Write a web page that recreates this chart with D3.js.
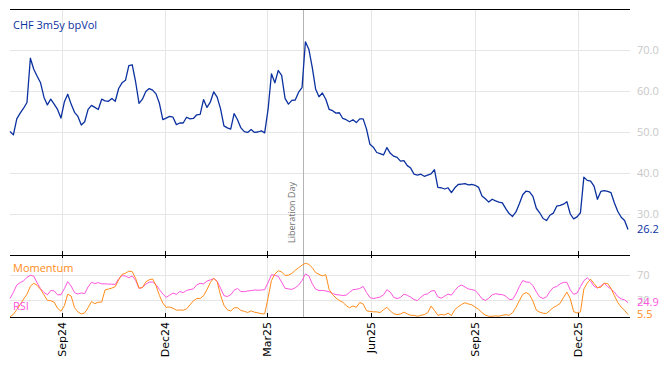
<!DOCTYPE html>
<html>
<head>
<meta charset="utf-8">
<script src="https://cdn.jsdelivr.net/npm/d3@7"></script>
<style>
body { margin: 0; background: #fff; }
svg { display: block; font-family: 'Open Sans', sans-serif; }
.grid { stroke: #e6e6e6; stroke-width: 1; }
.frame { stroke: #000; stroke-width: 1.2; }
.rlabel { fill: #c8c8c8; font-size: 11px; }
.xlabel { fill: #000; font-size: 11px; font-family: 'DejaVu Sans', sans-serif; }
</style>
</head>
<body>
<svg id="chart"></svg>
<script>
// series sampled every 3 calendar days from startDate
var startDate = '2024-07-17';
var stepDays = 3;

var volValues = [
  50.1, 49.3, 53.2, 54.6, 55.8, 57.2, 68.0, 65.3, 63.6, 62.0,
  58.5, 56.6, 58.0, 56.8, 55.5, 53.4, 57.3, 59.2, 56.8, 54.8,
  53.8, 51.7, 52.5, 55.5, 56.5, 56.0, 55.5, 58.0, 57.6, 57.5,
  58.2, 57.5, 60.6, 62.0, 62.6, 66.2, 66.4, 62.2, 57.0, 58.0,
  59.9, 60.6, 60.2, 59.3, 57.0, 53.0, 53.4, 53.8, 53.6, 51.8,
  52.2, 52.2, 53.6, 53.2, 53.3, 54.2, 54.3, 57.9, 56.0, 57.3,
  59.8, 58.5, 55.7, 51.5, 51.0, 50.7, 54.5, 53.0, 51.0, 50.1,
  49.9, 50.6, 49.9, 50.0, 50.3, 49.8, 55.5, 64.2, 62.0, 65.0,
  63.8, 58.2, 56.8, 57.7, 57.8, 59.7, 60.8, 72.0, 70.2, 65.8,
  60.5, 58.6, 59.5, 58.0, 55.5, 55.2, 54.6, 54.7, 53.3, 53.0,
  52.5, 53.0, 52.3, 53.2, 53.2, 50.7, 47.0, 46.3, 45.0, 44.7,
  44.4, 46.2, 44.8, 44.1, 43.8, 42.9, 43.0, 41.8, 41.2, 39.7,
  39.5, 39.7, 39.2, 39.5, 39.8, 40.8, 36.5, 36.4, 36.1, 36.4,
  35.2, 36.4, 37.2, 37.3, 37.4, 37.1, 37.2, 37.0, 36.5, 34.4,
  33.7, 32.9, 33.6, 33.2, 32.9, 32.7, 31.3, 30.1, 29.4, 30.5,
  32.5, 34.7, 35.6, 35.4, 34.3, 31.4, 30.3, 28.9, 28.4, 29.7,
  30.2, 31.9, 32.1, 32.4, 33.0, 30.0, 28.8, 29.3, 30.3, 39.0,
  38.2, 38.0, 36.8, 33.6, 35.5, 35.7, 35.5, 35.2, 32.7, 30.6,
  29.2, 28.4, 26.2
];

var momValues = [
   2.0,  6.0, 14.0, 22.0, 31.0, 39.0, 52.0, 57.0, 53.5, 47.0,
  38.0, 29.0, 28.3, 26.0, 16.0, 11.0, 20.0, 39.0, 36.0, 17.0,
  10.0,  6.6,  8.3, 17.0, 27.0, 23.5, 26.0, 26.0, 46.0, 47.5,
  49.0, 51.5, 62.5, 71.5, 73.4, 76.8, 76.0, 65.0, 49.0, 49.8,
  59.3, 62.7, 64.0, 53.0, 37.0, 24.5, 17.5, 18.0, 16.0, 12.8,
  13.2, 12.7, 15.0, 21.4, 28.0, 32.0, 32.0, 36.5, 46.5, 58.0,
  65.3, 59.5, 37.5, 21.0, 13.5, 11.5, 16.5, 17.0, 12.3, 11.0,
   9.0, 11.8,  9.5,  8.5,  7.0,  6.8, 33.0, 61.5, 72.0, 77.5,
  75.5, 69.7, 70.3, 73.1, 78.2, 82.3, 86.7, 89.8, 87.9, 82.7,
  74.5, 71.5, 69.0, 71.0, 46.5, 38.3, 32.8, 28.5, 25.9, 20.5,
  16.8, 19.8, 17.5, 25.5, 23.0, 12.0, 10.8, 10.2, 10.0,  9.0,
  13.5, 17.5, 11.5,  7.0,  5.6,  6.5,  9.6,  6.8,  4.4,  4.4,
   2.8,  4.4,  5.5,  8.8, 19.5, 12.5,  4.4,  5.8,  5.0,  8.0,
   4.0, 13.7, 18.5, 22.2, 25.0, 23.0, 21.5, 17.8, 14.2,  8.8,
   4.7,  2.9,  2.8,  3.5,  3.0,  4.4,  5.4,  4.5,  8.6, 17.3,
  28.4, 38.7, 41.7, 38.5, 27.5, 12.9,  9.6,  7.8,  7.5, 12.4,
  17.2, 20.1, 24.0, 33.7, 42.5, 31.7, 10.5,  8.2, 10.0, 47.5,
  57.4, 63.6, 56.5, 49.8, 50.5, 57.0, 56.5, 48.6, 36.5, 25.4,
  18.0, 12.5,  5.5
];

var rsiValues = [
  32.0, 42.0, 54.0, 58.0, 61.0, 66.5, 70.0, 68.5, 57.5, 48.0,
  42.0, 38.0, 45.0, 44.5, 38.0, 38.0, 48.0, 59.5, 52.5, 41.5,
  39.4, 41.0, 40.0, 51.0, 58.5, 56.5, 58.0, 56.0, 56.0, 55.5,
  55.5, 55.0, 64.5, 69.6, 68.7, 66.0, 69.0, 61.7, 48.5, 50.0,
  55.3, 58.8, 59.0, 54.8, 46.7, 39.4, 34.0, 37.3, 40.8, 38.8,
  43.5, 41.5, 45.2, 46.5, 47.8, 54.5, 56.8, 56.0, 60.5, 62.4,
  64.8, 60.3, 49.0, 36.7, 35.2, 38.0, 45.5, 48.5, 43.3, 43.2,
  44.3, 44.9, 45.8, 45.6, 45.8, 46.5, 58.0, 70.8, 70.1, 68.3,
  58.8, 48.7, 47.7, 46.9, 49.5, 53.8, 61.4, 72.2, 69.1, 56.3,
  47.2, 45.0, 45.2, 44.3, 43.0, 40.2, 38.3, 37.8, 36.8, 37.6,
  42.0, 46.5, 47.1, 48.3, 51.8, 41.8, 33.5, 31.9, 33.1, 34.4,
  38.0, 46.3, 42.5, 34.0, 31.8, 33.7, 39.0, 37.3, 34.0, 30.2,
  28.5, 34.0, 38.3, 39.6, 44.2, 45.0, 34.7, 32.4, 35.7, 39.3,
  37.5, 45.0, 51.4, 54.1, 50.8, 47.6, 46.5, 45.2, 39.0, 31.4,
  28.8, 32.5, 38.0, 39.8, 38.8, 38.3, 35.7, 30.5, 30.5, 39.3,
  51.5, 61.5, 59.0, 58.5, 53.2, 43.0, 34.5, 32.0, 34.7, 43.5,
  50.0, 51.5, 55.8, 58.5, 58.5, 46.0, 38.8, 40.8, 51.5, 61.0,
  66.0, 60.5, 52.0, 49.0, 52.5, 57.0, 51.5, 47.5, 42.5, 35.0,
  31.3, 29.8, 24.9
];

var tickDates = ['2024-09-01', '2024-12-01', '2025-03-01', '2025-06-01', '2025-09-01', '2025-12-01'];
var volTicks = [30, 40, 50, 60, 70];
var oscTicks = [30, 70];
var eventDate = '2025-04-02';
var eventLabel = 'Liberation Day';
var volTitle = 'CHF 3m5y bpVol';
var momTitle = 'Momentum';
var rsiTitle = 'RSI';

var blue = '#0b31a0', orange = '#ff8c1a', pink = '#ff55dd';
var width = 668, height = 366;
var left = 10, right = 630;
var top1 = 9, bot1 = 255, bot2 = 317;

var parse = d3.timeParse('%Y-%m-%d');
var t0 = parse(startDate);
var dates = volValues.map(function(v, i) { return d3.timeDay.offset(t0, i * stepDays); });

var svg = d3.select('#chart').attr('width', width).attr('height', height);

var x = d3.scaleTime().domain([dates[0], dates[dates.length - 1]]).range([left, 628]);
var yVol = d3.scaleLinear().domain([20, 80]).range([bot1, top1]);
var yOsc = d3.scaleLinear().domain([0, 100]).range([318, 257]);

var ticks = tickDates.map(parse);
var fmt = d3.timeFormat('%b%y');

// gridlines
svg.append('g').selectAll('line').data(volTicks).enter().append('line')
    .attr('class', 'grid')
    .attr('x1', left).attr('x2', right)
    .attr('y1', function(d) { return Math.round(yVol(d)) + 0.5; })
    .attr('y2', function(d) { return Math.round(yVol(d)) + 0.5; });
svg.append('g').selectAll('line').data(oscTicks).enter().append('line')
    .attr('class', 'grid')
    .attr('x1', left).attr('x2', right)
    .attr('y1', function(d) { return Math.round(yOsc(d)) + 0.5; })
    .attr('y2', function(d) { return Math.round(yOsc(d)) + 0.5; });
svg.append('g').selectAll('line').data(ticks).enter().append('line')
    .attr('class', 'grid')
    .attr('x1', function(d) { return Math.round(x(d)) + 0.5; })
    .attr('x2', function(d) { return Math.round(x(d)) + 0.5; })
    .attr('y1', top1).attr('y2', bot2);

// event marker
var ex = Math.round(x(parse(eventDate))) + 0.5;
svg.append('line').attr('x1', ex).attr('x2', ex).attr('y1', top1).attr('y2', bot2)
    .attr('stroke', '#b4b4b4').attr('stroke-width', 1);
svg.append('text')
    .attr('transform', 'translate(' + (ex - 9) + ',' + 243 + ') rotate(-90)')
    .attr('fill', '#707070').style('font-size', '9px')
    .text(eventLabel);

// frame lines
[top1, bot1, bot2].forEach(function(yy) {
    svg.append('line').attr('class', 'frame')
        .attr('x1', left).attr('x2', right).attr('y1', yy + 0.5).attr('y2', yy + 0.5);
});

// tick marks
var tg = svg.append('g').attr('stroke', '#000').attr('stroke-width', 1);
ticks.forEach(function(d) {
    var tx = Math.round(x(d)) + 0.5;
    tg.append('line').attr('x1', tx).attr('x2', tx).attr('y1', bot1 - 4).attr('y2', bot1 + 3);
    tg.append('line').attr('x1', tx).attr('x2', tx).attr('y1', bot2 - 4).attr('y2', bot2);
});

// x labels
svg.append('g').selectAll('text').data(ticks).enter().append('text')
    .attr('class', 'xlabel')
    .attr('text-anchor', 'end')
    .attr('transform', function(d) { return 'translate(' + (x(d) + 4) + ',' + 322 + ') rotate(-90)'; })
    .text(fmt);

// lines
var volLine = d3.line().x(function(d, i) { return x(dates[i]); }).y(function(d) { return yVol(d); });
var oscLine = d3.line().x(function(d, i) { return x(dates[i]); }).y(function(d) { return yOsc(d); });

svg.append('path').datum(rsiValues).attr('d', oscLine)
    .attr('fill', 'none').attr('stroke', pink).attr('stroke-width', 1);
svg.append('path').datum(momValues).attr('d', oscLine)
    .attr('fill', 'none').attr('stroke', orange).attr('stroke-width', 1);
svg.append('path').datum(volValues).attr('d', volLine)
    .attr('fill', 'none').attr('stroke', blue).attr('stroke-width', 1.3).attr('stroke-linejoin', 'round');

// right labels
svg.append('g').selectAll('text').data(volTicks).enter().append('text')
    .attr('class', 'rlabel')
    .attr('x', 637).attr('y', function(d) { return yVol(d); }).attr('dy', '0.35em')
    .text(function(d) { return d3.format('.1f')(d); });
svg.append('g').selectAll('text').data(oscTicks).enter().append('text')
    .attr('class', 'rlabel')
    .attr('x', 637).attr('y', function(d) { return yOsc(d); }).attr('dy', '0.35em')
    .text(function(d) { return d; });

var lastLabel = function(vals, scale, color, fmtStr, dyAdj) {
    var v = vals[vals.length - 1];
    svg.append('text')
        .attr('x', 637).attr('y', scale(v) + dyAdj).attr('dy', '0.35em')
        .attr('fill', color).style('font-size', '11px')
        .text(d3.format(fmtStr)(v));
};
lastLabel(volValues, yVol, blue, '.1f', 0);
lastLabel(rsiValues, yOsc, pink, '.1f', -0.5);
lastLabel(momValues, yOsc, orange, '.1f', -0.5);

// series titles
svg.append('text').attr('x', 13).attr('y', 29).attr('fill', blue).style('font-size', '11px').text(volTitle);
svg.append('text').attr('x', 13).attr('y', 272).attr('fill', orange).style('font-size', '11px').text(momTitle);
svg.append('text').attr('x', 13).attr('y', 310).attr('fill', pink).style('font-size', '11px').text(rsiTitle);
</script>
</body>
</html>
